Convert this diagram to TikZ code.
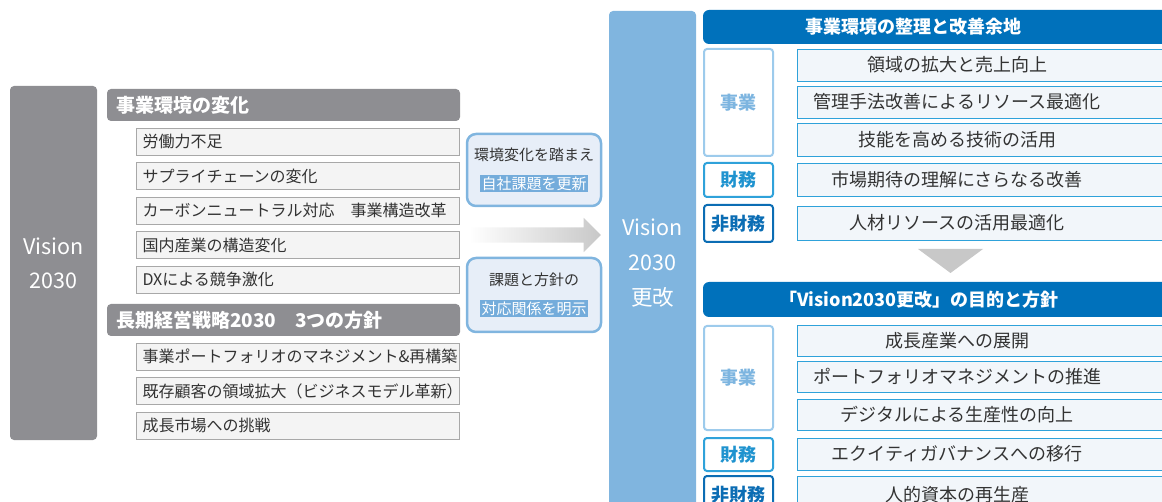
\documentclass[tikz,border=0pt]{standalone}
\usepackage{fontspec}
\setmainfont{Noto Sans CJK JP}
\usetikzlibrary{positioning,shapes.arrows}
\definecolor{hdgray}{HTML}{8E8E92}
\definecolor{itemgray}{HTML}{F4F4F4}
\definecolor{linegray}{HTML}{A8A8A8}
\definecolor{txtgray}{HTML}{333333}
\definecolor{arrowgray}{HTML}{C8C8C8}
\definecolor{barblue}{HTML}{80B5DF}
\definecolor{headblue}{HTML}{0071BB}
\definecolor{lineblue}{HTML}{2FA2DA}
\definecolor{paleblue}{HTML}{9DCBEC}
\definecolor{paletext}{HTML}{7DB5E0}
\definecolor{midtext}{HTML}{1F93CF}
\definecolor{darkblue}{HTML}{0B6DB4}
\definecolor{itemblue}{HTML}{F2F6FA}
\definecolor{callfill}{HTML}{E7EEF8}
\definecolor{callmark}{HTML}{74ACDB}
\newcommand{\hilite}[1]{{\setlength{\fboxsep}{1.5pt}\colorbox{callmark}{\color{white}#1}}}
\tikzset{
  base/.style      = {inner sep=0pt, outer sep=0pt, text=txtgray},
  vbox/.style      = {base, anchor=north west, rounded corners=4pt, text=white,
                      align=center, minimum width=87pt},
  lhead/.style     = {base, anchor=north west, fill=hdgray, rounded corners=4pt,
                      text=white, text width=335pt, inner xsep=9pt, minimum height=32pt,
                      align=left, font=\fontsize{19}{22}\selectfont\bfseries},
  litem/.style     = {base, anchor=north west, draw=linegray, fill=itemgray,
                      text width=310pt, inner xsep=6.5pt, minimum height=27pt,
                      align=left, font=\fontsize{16}{19}\selectfont},
  callout/.style   = {base, draw=barblue, line width=2.5pt, fill=callfill,
                      rounded corners=9pt, minimum width=134pt, minimum height=72pt,
                      align=center, font=\fontsize{15}{29}\selectfont},
  flowarrow/.style = {single arrow, single arrow head extend=9.5pt,
                      single arrow head indent=0pt, inner xsep=0pt, inner ysep=7.5pt,
                      outer sep=0pt, minimum height=132pt,
                      left color=white, right color=arrowgray},
  rhead/.style     = {base, anchor=north west, fill=headblue, rounded corners=6pt,
                      minimum width=480pt},
  rheadtext/.style = {base, text=white, font=\fontsize{18}{20}\selectfont\bfseries},
  kind/.style      = {base, anchor=north west, line width=2pt, rounded corners=3pt,
                      fill=white, minimum width=69pt,
                      font=\fontsize{18}{20}\selectfont\bfseries},
  ritem/.style     = {base, anchor=north west, draw=lineblue, fill=itemblue,
                      minimum width=400pt, minimum height=32pt},
  ritemtext/.style = {base, font=\fontsize{18}{20}\selectfont}
}

\begin{document}
\begin{tikzpicture}[x=1pt, y=-1pt]
\useasboundingbox (0,0) rectangle (1162,502);
\clip (0,0) rectangle (1162,502);

% left column: Vision 2030 and its contents
\node[vbox, fill=hdgray, minimum height=354pt, font=\fontsize{21.5}{34}\selectfont]
  (vis) at (10,86) {Vision\\2030};

\node[lhead] (h1) at (107,89) {事業環境の変化};
\node[litem] (e1) at (136,128) {労働力不足};
\node[litem, below=7.5pt of e1] (e2) {サプライチェーンの変化};
\node[litem, below=7.5pt of e2] (e3) {カーボンニュートラル対応\quad 事業構造改革};
\node[litem, below=7.5pt of e3] (e4) {国内産業の構造変化};
\node[litem, below=7.5pt of e4] (e5) {DXによる競争激化};

\node[lhead] (h2) at (107,304) {長期経営戦略2030\quad 3つの方針};
\node[litem] (s1) at (136,343) {事業ポートフォリオのマネジメント\&再構築};
\node[litem, below=7.5pt of s1] (s2) {既存顧客の領域拡大（ビジネスモデル革新）};
\node[litem, below=7.5pt of s2] (s3) {成長市場への挑戦};

% callouts and the flow arrow
\node[callout] (c1) at (534,170) {環境変化を踏まえ\\\hilite{自社課題を更新}};
\node[callout, minimum height=74pt] (c2) at (534,295) {課題と方針の\\\hilite{対応関係を明示}};
\node[flowarrow] (flow) at (531,235) {};

% middle bar
\node[vbox, fill=barblue, minimum height=504pt, font=\fontsize{21.5}{35}\selectfont]
  (bar) at (609,11) {Vision\\2030\\更改};

% right column, upper part
\node[rhead, minimum height=34pt] (t1) at (703,10) {};
\node[rheadtext] (t1t) at ([xshift=-30pt]t1.center) {事業環境の整理と改善余地};

\node[kind, draw=paleblue, text=paletext, minimum height=107pt] (k1) at (704,49) {事業};
\node[kind, draw=lineblue, text=midtext, minimum height=34pt] (k2) at (704,163) {財務};
\node[kind, draw=darkblue, text=darkblue, minimum height=37pt] (k3) at (704,205) {非財務};

\node[ritem] (a1) at (797,49) {};
\node[ritem, below=5pt of a1] (a2) {};
\node[ritem, below=5pt of a2, minimum height=33pt] (a3) {};
\node[ritem, minimum height=33pt] (a4) at (797,163) {};
\node[ritem, minimum height=34pt] (a5) at (797,206) {};

% gray arrow down
\fill[arrowgray] (918,249) -- (983,249) -- (950.5,273) -- cycle;

% right column, lower part
\node[rhead, minimum height=35pt] (t2) at (703,282) {};
\node[rheadtext] (t2t) at ([xshift=-24pt]t2.center) {「Vision2030更改」の目的と方針};

\node[kind, draw=paleblue, text=paletext, minimum height=104pt] (k4) at (704,326) {事業};
\node[kind, draw=lineblue, text=midtext, minimum height=33pt] (k5) at (704,438) {財務};
\node[kind, draw=darkblue, text=darkblue, minimum height=37pt] (k6) at (704,476) {非財務};

\node[ritem, minimum height=31pt] (b1) at (797,325) {};
\node[ritem, below=5pt of b1, minimum height=31pt] (b2) {};
\node[ritem, below=7pt of b2, minimum height=31pt] (b3) {};
\node[ritem, below=8pt of b3] (b4) {};
\node[ritem, minimum height=37pt] (b5) at (797,476) {};

% texts of the right items
\foreach \n/\t in {a1/領域の拡大と売上向上, a2/管理手法改善によるリソース最適化,
                   a3/技能を高める技術の活用, a4/市場期待の理解にさらなる改善,
                   a5/人材リソースの活用最適化, b1/成長産業への展開,
                   b2/ポートフォリオマネジメントの推進, b3/デジタルによる生産性の向上,
                   b4/エクイティガバナンスへの移行, b5/人的資本の再生産}
  \node[ritemtext] (\n t) at ([xshift=-40pt]\n.center) {\t};
\end{tikzpicture}
\end{document}
